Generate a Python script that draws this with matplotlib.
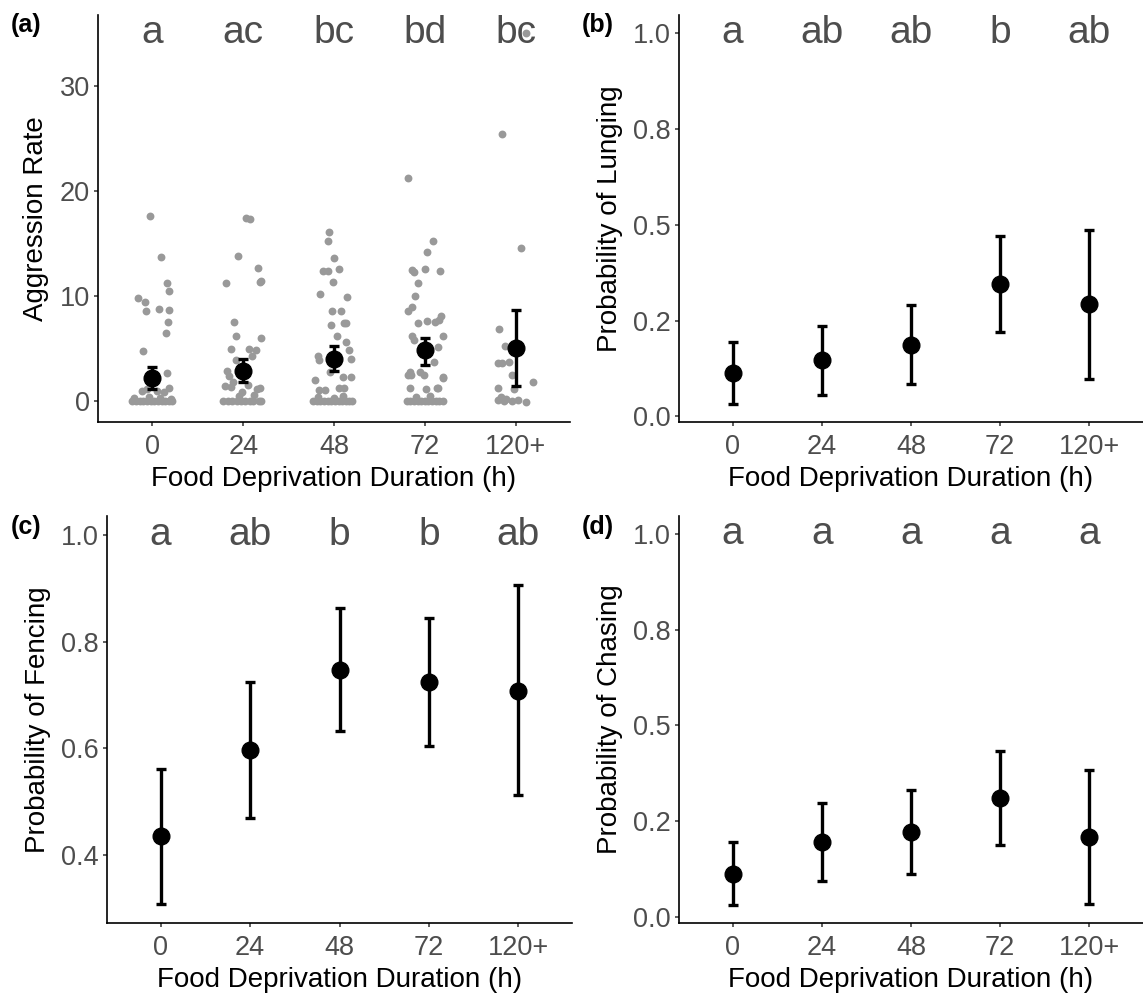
import numpy as np
import matplotlib.pyplot as plt

plt.rcParams['font.family'] = ['Liberation Sans', 'DejaVu Sans']

durations = ['0', '24', '48', '72', '120+']

# panel (a): raw aggression rates, with the horizontal jitter
agg_vals_0 = [17.6, 13.7, 11.2, 10.5, 9.8, 9.4, 8.6, 8.8, 8.7, 7.5, 6.5, 4.8, 2.7, 1.3,
              1.0, 1.2, 1.0, 0.9, 0.3, 0.4, 0.3, 0.2,
              0, 0, 0, 0, 0, 0, 0, 0, 0, 0, 0, 0]
agg_jit_0 = [-0.03, 0.09, 0.16, 0.18, -0.16, -0.08, -0.07, 0.07, 0.18, 0.17, 0.15, -0.10, 0.16, 0.18,
             -0.12, -0.06, 0.05, 0.13, -0.20, -0.04, 0.08, 0.20,
             -0.22, -0.18, -0.14, -0.10, -0.06, -0.02, 0.02, 0.06, 0.10, 0.14, 0.18, 0.21]
agg_vals_24 = [17.4, 17.3, 13.8, 12.7, 11.3, 11.4, 11.2, 7.5, 6.2, 6.0, 5.0, 5.0, 4.85, 3.9, 4.3,
               2.9, 2.4, 1.4, 0.9, 1.2, 1.5, 1.8, 1.6, 1.3, 0.6, 0.5,
               0, 0, 0, 0, 0, 0, 0, 0, 0, 0]
agg_jit_24 = [0.03, 0.08, -0.06, 0.16, 0.19, 0.20, -0.19, -0.10, -0.08, 0.20, -0.13, 0.06, 0.14, -0.08, 0.10,
              -0.18, -0.16, -0.14, -0.01, 0.15, -0.20, -0.11, 0.05, 0.18, 0.12, -0.05,
              -0.22, -0.17, -0.12, -0.07, -0.03, 0.02, 0.07, 0.11, 0.17, 0.20]
agg_vals_48 = [16.05, 15.2, 13.6, 12.4, 12.4, 12.6, 11.3, 10.2, 9.9, 8.6, 8.6, 7.3, 7.4, 7.4, 6.2, 5.6,
               4.3, 3.9, 4.9, 4.0, 2.8, 2.0, 2.3, 2.3, 1.1, 1.1, 1.3, 1.3, 0.4, 0.5, 0.3,
               0, 0, 0, 0, 0, 0, 0, 0, 0, 0, 0, 0]
agg_jit_48 = [-0.06, -0.07, 0.00, -0.12, -0.07, 0.06, -0.01, -0.15, 0.14, -0.02, 0.08, -0.03, 0.11, 0.13, 0.03, 0.13,
              -0.18, -0.16, 0.16, 0.19, -0.04, -0.21, 0.10, 0.19, -0.17, -0.10, 0.06, 0.11, -0.18, 0.10, 0.00,
              -0.23, -0.19, -0.15, -0.11, -0.07, -0.03, 0.01, 0.05, 0.09, 0.13, 0.17, 0.20]
agg_vals_72 = [21.2, 15.2, 14.2, 12.5, 12.3, 12.6, 12.4, 11.2, 10.0, 8.6, 9.0, 7.4, 7.6, 7.5, 7.7, 8.1,
               6.2, 6.2, 5.8, 5.2, 3.7, 2.8, 2.8, 2.3, 2.5, 2.5, 2.5, 2.2, 1.3, 1.2, 1.3, 1.3, 0.4, 0.5,
               0, 0, 0, 0, 0, 0, 0, 0, 0, 0, 0]
agg_jit_72 = [-0.18, 0.09, 0.02, -0.14, -0.12, 0.00, 0.17, -0.08, -0.11, -0.19, -0.14, -0.08, 0.03, 0.11, 0.16, 0.18,
              -0.14, 0.20, -0.12, 0.15, 0.10, -0.16, -0.05, 0.20, -0.19, -0.15, -0.01, 0.20, -0.16, 0.01, 0.13, 0.15, -0.10, 0.06,
              -0.20, -0.16, -0.12, -0.08, -0.04, 0.00, 0.04, 0.08, 0.12, 0.16, 0.20]
agg_vals_120 = [35.0, 25.4, 14.6, 6.9, 5.3, 3.6, 3.6, 3.7, 2.5, 1.8, 1.3, 1.2,
                0.1, 0.0, 0.2, 0.0, 0.1, -0.1, 0.4]
agg_jit_120 = [0.12, -0.15, 0.06, -0.18, -0.12, -0.19, -0.15, -0.07, -0.04, 0.19, -0.19, -0.02,
               -0.19, -0.13, -0.10, -0.04, 0.03, 0.11, -0.16]

agg_vals = [agg_vals_0, agg_vals_24, agg_vals_48, agg_vals_72, agg_vals_120]
agg_jit = [agg_jit_0, agg_jit_24, agg_jit_48, agg_jit_72, agg_jit_120]

agg_mean = [2.2, 2.9, 4.05, 4.85, 5.1]
agg_lo = [1.2, 1.8, 2.9, 3.5, 1.45]
agg_hi = [3.3, 4.05, 5.25, 6.0, 8.7]
agg_letters = ['a', 'ac', 'bc', 'bd', 'bc']

# panels (b)-(d): model estimates with 95% CI
lunge_mean = [0.114, 0.146, 0.187, 0.345, 0.292]
lunge_lo = [0.033, 0.056, 0.085, 0.220, 0.097]
lunge_hi = [0.195, 0.237, 0.290, 0.472, 0.487]
lunge_letters = ['a', 'ab', 'ab', 'b', 'ab']

fence_mean = [0.435, 0.596, 0.746, 0.724, 0.708]
fence_lo = [0.308, 0.470, 0.632, 0.605, 0.513]
fence_hi = [0.562, 0.724, 0.862, 0.844, 0.905]
fence_letters = ['a', 'ab', 'b', 'b', 'ab']

chase_mean = [0.112, 0.194, 0.221, 0.310, 0.208]
chase_lo = [0.031, 0.092, 0.110, 0.187, 0.032]
chase_hi = [0.196, 0.296, 0.331, 0.433, 0.384]
chase_letters = ['a', 'a', 'a', 'a', 'a']

W, H = 1143, 994
fig = plt.figure(figsize=(W / 100, H / 100), dpi=100)


def make_ax(left, right, top, bottom):
    return fig.add_axes([left / W, 1 - bottom / H, (right - left) / W, (bottom - top) / H])


def style(ax, ylabel):
    for s in ['top', 'right']:
        ax.spines[s].set_visible(False)
    for s in ['left', 'bottom']:
        ax.spines[s].set_linewidth(1.2)
    ax.tick_params(labelsize=19.5, labelcolor='#4D4D4D', length=3.2, width=1.1,
                   color='#333333', pad=2.5)
    ax.tick_params(axis='x', pad=5.5)
    ax.set_xlim(0.4, 5.6)
    ax.set_xticks(range(1, 6))
    ax.set_xticklabels(durations)
    ax.set_xlabel('Food Deprivation Duration (h)', fontsize=20, labelpad=4.5)
    ax.set_ylabel(ylabel, fontsize=20, labelpad=7.5)


def draw_ci(ax, mean, lo, hi, ms):
    x = np.arange(1, 6)
    m = np.array(mean)
    ax.errorbar(x, m, yerr=[m - np.array(lo), np.array(hi) - m], fmt='o', color='black',
                ms=ms, elinewidth=2.4, capsize=3.3, capthick=2.4, zorder=3)


def letters(ax, labels, y):
    for i, t in enumerate(labels):
        ax.text(i + 1, y, t, ha='center', va='center', fontsize=28, color='#4D4D4D')


def tag(x, y, t):
    fig.text(x / W, 1 - y / H, t, fontsize=18, fontweight='bold', va='center', ha='left')


# (a)
ax = make_ax(98, 570, 15, 422)
for i in range(5):
    ax.scatter(i + 1 + np.array(agg_jit[i]), agg_vals[i], s=32, color='#999999',
               linewidths=0, zorder=1)
draw_ci(ax, agg_mean, agg_lo, agg_hi, 12)
letters(ax, agg_letters, 35)
ax.set_ylim(-1.96, 36.7)
ax.set_yticks([0, 10, 20, 30])
style(ax, 'Aggression Rate')
tag(11, 25, '(a)')

# (b)
ax = make_ax(679, 1143, 15, 422)
draw_ci(ax, lunge_mean, lunge_lo, lunge_hi, 12)
letters(ax, lunge_letters, 1.0)
ax.set_ylim(-0.015, 1.048)
ax.set_yticks([0, 0.25, 0.5, 0.75, 1.0])
ax.set_yticklabels(['0.0', '0.2', '0.5', '0.8', '1.0'])
style(ax, 'Probability of Lunging')
tag(582, 25, '(b)')

# (c)
ax = make_ax(107, 572, 516, 923)
draw_ci(ax, fence_mean, fence_lo, fence_hi, 12)
letters(ax, fence_letters, 1.0)
ax.set_ylim(0.273, 1.035)
ax.set_yticks([0.4, 0.6, 0.8, 1.0])
ax.set_yticklabels(['0.4', '0.6', '0.8', '1.0'])
style(ax, 'Probability of Fencing')
tag(11, 527, '(c)')

# (d)
ax = make_ax(679, 1143, 516, 923)
draw_ci(ax, chase_mean, chase_lo, chase_hi, 12)
letters(ax, chase_letters, 1.0)
ax.set_ylim(-0.017, 1.048)
ax.set_yticks([0, 0.25, 0.5, 0.75, 1.0])
ax.set_yticklabels(['0.0', '0.2', '0.5', '0.8', '1.0'])
style(ax, 'Probability of Chasing')
tag(582, 527, '(d)')

fig.savefig('out.png', dpi=100)
